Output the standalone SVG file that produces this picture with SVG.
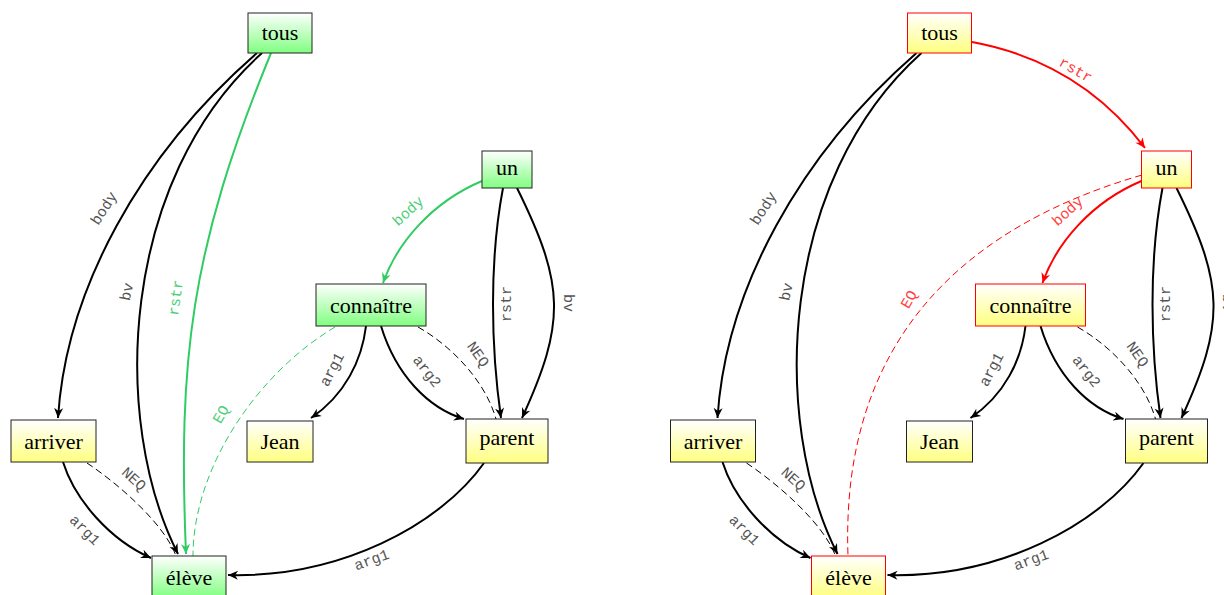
<svg xmlns="http://www.w3.org/2000/svg" width="1224" height="595" viewBox="0 0 1224 595">
<defs>
<linearGradient id="gy" x1="0" y1="0" x2="0" y2="1"><stop offset="0" stop-color="#ffffff"/><stop offset="1" stop-color="#ffff80"/></linearGradient>
<linearGradient id="gg" x1="0" y1="0" x2="0" y2="1"><stop offset="0" stop-color="#ffffff"/><stop offset="1" stop-color="#80ff80"/></linearGradient>
<marker id="ak" viewBox="-11 -5 12 10" refX="0" refY="0" markerWidth="12" markerHeight="10" markerUnits="userSpaceOnUse" orient="auto"><path d="M0,0 L-10,-4.5 L-7,0 L-10,4.5 Z" fill="#000"/></marker>
<marker id="ag" viewBox="-11 -5 12 10" refX="0" refY="0" markerWidth="12" markerHeight="10" markerUnits="userSpaceOnUse" orient="auto"><path d="M0,0 L-10,-4.5 L-7,0 L-10,4.5 Z" fill="#2fcc63"/></marker>
<marker id="ar" viewBox="-11 -5 12 10" refX="0" refY="0" markerWidth="12" markerHeight="10" markerUnits="userSpaceOnUse" orient="auto"><path d="M0,0 L-10,-4.5 L-7,0 L-10,4.5 Z" fill="#ff0000"/></marker>
</defs>
<style>
.n rect{stroke:#222;stroke-width:1}
.y rect{fill:url(#gy)}
.g rect{fill:url(#gg)}
.r rect{stroke:#ff0000}
.n text{font-size:22px;fill:#000;text-anchor:middle}
.e{fill:none;stroke:#000;stroke-width:2;marker-end:url(#ak)}
.eg{fill:none;stroke:#2fcc63;stroke-width:2;marker-end:url(#ag)}
.er{fill:none;stroke:#ff0000;stroke-width:2;marker-end:url(#ar)}
.d{fill:none;stroke:#000;stroke-width:1;stroke-dasharray:7,4}
.dg{fill:none;stroke:#2fcc63;stroke-width:1;stroke-dasharray:7,4}
.dr{fill:none;stroke:#ff0000;stroke-width:1;stroke-dasharray:7,4}
.l{font-size:15px;fill:#555;text-anchor:middle;dominant-baseline:central}
.lg{fill:#4ccf78}
.lr{fill:#ff4040}
</style>

<!-- LEFT DIAGRAM -->
<g id="left">
<g id="connectors-left" font-family="'Liberation Mono', 'Courier New', monospace">
<path class="e" d="M257,53 C140,155 66,290 58,418"/>
<path class="e" d="M262,53 C120,180 110,420 178,554"/>
<path class="eg" d="M271,53 C190,250 178,360 186,554"/>
<path class="eg" d="M482,181 C432,202 397,243 383,283"/>
<path class="e" d="M503,188 C489,262 491,348 501,418"/>
<path class="e" d="M517,188 C565,285 566,322 522,418"/>
<path class="e" d="M366,326 C362,360 345,395 311,418"/>
<path class="e" d="M381,326 C396,375 428,408 464,419"/>
<path class="d" d="M418,327 C450,345 485,380 496,419"/>
<path class="dg" d="M335,327 C255,375 193,470 193,556"/>
<path class="e" d="M63,462 C75,500 110,540 151,558"/>
<path class="d" d="M87,463 C120,485 165,525 176,556"/>
<path class="e" d="M484,463 C440,525 340,578 228,575"/>
<text class="l" transform="translate(105,209) rotate(-57)">body</text>
<text class="l" transform="translate(128,292) rotate(-78)">bv</text>
<text class="l lg" transform="translate(177,298) rotate(-82)">rstr</text>
<text class="l lg" transform="translate(409,212) rotate(-42)">body</text>
<text class="l" transform="translate(507,304) rotate(-90)">rstr</text>
<text class="l" transform="translate(567,303) rotate(90)">bv</text>
<text class="l" transform="translate(333,370) rotate(-62)">arg1</text>
<text class="l" transform="translate(426,372) rotate(52)">arg2</text>
<text class="l" transform="translate(477,355) rotate(55)">NEQ</text>
<text class="l lg" transform="translate(222,415) rotate(-60)">EQ</text>
<text class="l" transform="translate(84,531) rotate(45)">arg1</text>
<text class="l" transform="translate(133,480) rotate(42)">NEQ</text>
<text class="l" transform="translate(372,561) rotate(-20)">arg1</text>
</g>
<g font-family="'Liberation Serif', 'DejaVu Serif', serif">
<g id="tous-L" class="n g"><rect x="248" y="13" width="64" height="40"/><text x="280" y="39.5">tous</text></g>
<g id="un-L" class="n g"><rect x="482" y="151" width="50" height="37"/><text x="507" y="174.5">un</text></g>
<g id="connaitre-L" class="n g"><rect x="316" y="284" width="110" height="42"/><text x="371" y="312.5">connaître</text></g>
<g id="Jean-L" class="n y"><rect x="247" y="421" width="66" height="41"/><text x="280" y="449">Jean</text></g>
<g id="parent-L" class="n y"><rect x="466" y="419" width="82" height="44"/><text x="507" y="445">parent</text></g>
<g id="arriver-L" class="n y"><rect x="11" y="420" width="85" height="42"/><text x="53.5" y="448.5">arriver</text></g>
<g id="eleve-L" class="n g"><rect x="152" y="556" width="74" height="42"/><text x="189" y="585">élève</text></g>
</g>
</g>

<!-- RIGHT DIAGRAM -->
<g id="right" transform="translate(659.5,0)">
<g id="connectors-right" font-family="'Liberation Mono', 'Courier New', monospace">
<path class="e" d="M257,53 C140,155 66,290 58,418"/>
<path class="e" d="M262,53 C120,180 110,420 178,554"/>
<path class="er" d="M312.5,42 C410.5,60 460.5,115 485.5,148"/>
<path class="er" d="M482,181 C432,202 397,243 383,283"/>
<path class="dr" d="M482.5,175 C310.5,225 180.5,335 188.5,556"/>
<path class="e" d="M503,188 C489,262 491,348 501,418"/>
<path class="e" d="M517,188 C565,285 566,322 522,418"/>
<path class="e" d="M366,326 C362,360 345,395 311,418"/>
<path class="e" d="M381,326 C396,375 428,408 464,419"/>
<path class="d" d="M418,327 C450,345 485,380 496,419"/>
<path class="e" d="M63,462 C75,500 110,540 151,558"/>
<path class="d" d="M87,463 C120,485 165,525 176,556"/>
<path class="e" d="M484,463 C440,525 340,578 228,575"/>
<text class="l" transform="translate(105,209) rotate(-57)">body</text>
<text class="l" transform="translate(128,292) rotate(-78)">bv</text>
<text class="l lr" transform="translate(415.5,71) rotate(30)">rstr</text>
<text class="l lr" transform="translate(409,212) rotate(-42)">body</text>
<text class="l lr" transform="translate(250.5,300) rotate(-60)">EQ</text>
<text class="l" transform="translate(507,304) rotate(-90)">rstr</text>
<text class="l" transform="translate(567,303) rotate(90)">bv</text>
<text class="l" transform="translate(333,370) rotate(-62)">arg1</text>
<text class="l" transform="translate(426,372) rotate(52)">arg2</text>
<text class="l" transform="translate(477,355) rotate(55)">NEQ</text>
<text class="l" transform="translate(84,531) rotate(45)">arg1</text>
<text class="l" transform="translate(133,480) rotate(42)">NEQ</text>
<text class="l" transform="translate(372,561) rotate(-20)">arg1</text>
</g>
<g font-family="'Liberation Serif', 'DejaVu Serif', serif">
<g id="tous-R" class="n y r"><rect x="248" y="13" width="64" height="40"/><text x="280" y="39.5">tous</text></g>
<g id="un-R" class="n y r"><rect x="482" y="151" width="50" height="37"/><text x="507" y="174.5">un</text></g>
<g id="connaitre-R" class="n y r"><rect x="316" y="284" width="110" height="42"/><text x="371" y="312.5">connaître</text></g>
<g id="Jean-R" class="n y"><rect x="247" y="421" width="66" height="41"/><text x="280" y="449">Jean</text></g>
<g id="parent-R" class="n y"><rect x="466" y="419" width="82" height="44"/><text x="507" y="445">parent</text></g>
<g id="arriver-R" class="n y"><rect x="11" y="420" width="85" height="42"/><text x="53.5" y="448.5">arriver</text></g>
<g id="eleve-R" class="n y r"><rect x="152" y="556" width="74" height="42"/><text x="189" y="585">élève</text></g>
</g>
</g>
</svg>
